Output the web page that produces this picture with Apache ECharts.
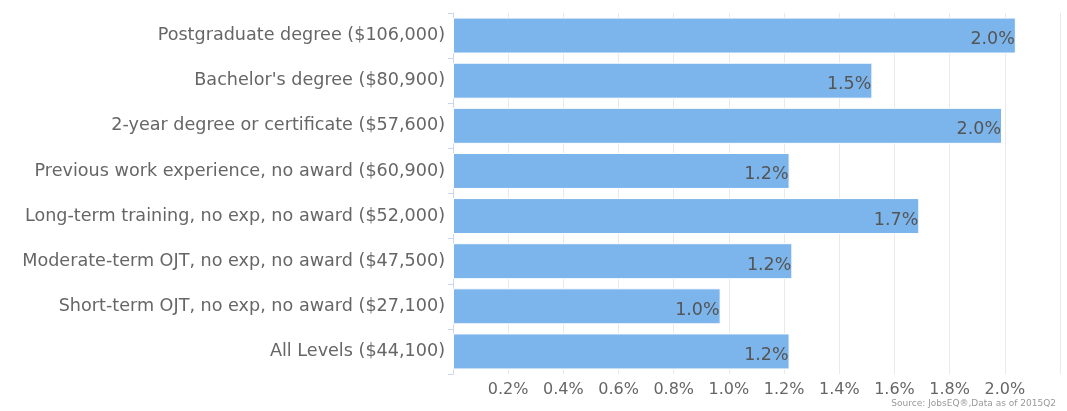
<!DOCTYPE html>
<html>
<head>
<meta charset="utf-8">
<script src="https://cdn.jsdelivr.net/npm/echarts@6/dist/echarts.min.js"></script>
<style>
html,body{margin:0;padding:0;background:#fff;}
#c{width:1067px;height:411px;}
</style>
</head>
<body>
<div id="c"></div>
<script>
const categories = [
  "Postgraduate degree ($106,000)",
  "Bachelor's degree ($80,900)",
  "2-year degree or certificate ($57,600)",
  "Previous work experience, no award ($60,900)",
  "Long-term training, no exp, no award ($52,000)",
  "Moderate-term OJT, no exp, no award ($47,500)",
  "Short-term OJT, no exp, no award ($27,100)",
  "All Levels ($44,100)"
];
const growthValues = [2.04, 1.52, 1.99, 1.22, 1.69, 1.23, 0.97, 1.22];
const sourceText = "Source: JobsEQ®,Data as of 2015Q2";

const chart = echarts.init(document.getElementById('c'), null, {renderer: 'canvas'});
const font = 'DejaVu Sans';
chart.setOption({
  animation: false,
  backgroundColor: '#ffffff',
  grid: {left: 453, right: 7, top: 13, bottom: 37, containLabel: false},
  xAxis: {
    type: 'value',
    min: 0, max: 2.2, interval: 0.2,
    axisLine: {show: false},
    axisTick: {show: false},
    splitLine: {show: true, lineStyle: {color: '#e9e9e9', width: 1}},
    axisLabel: {
      color: '#666666', fontFamily: font, fontSize: 16, margin: 8,
      formatter: function (v) {
        if (v < 0.01 || v > 2.1) return '';
        return v.toFixed(1) + '%';
      }
    }
  },
  yAxis: {
    type: 'category',
    data: categories,
    inverse: true,
    axisLine: {show: true, lineStyle: {color: '#ccd6eb', width: 1}},
    axisTick: {show: true, length: 5, lineStyle: {color: '#ccd6eb'}},
    axisLabel: {color: '#666666', fontFamily: font, fontSize: 17.6, margin: 8}
  },
  series: [{
    type: 'bar',
    data: growthValues,
    barWidth: 36,
    itemStyle: {color: '#7cb5ec', borderColor: '#ffffff', borderWidth: 1},
    label: {
      show: true,
      position: 'insideRight',
      distance: 1,
      offset: [0, 4],
      color: '#555555',
      fontFamily: font,
      fontSize: 17.5,
      formatter: function (p) { return p.value.toFixed(1) + '%'; }
    }
  }],
  graphic: [{
    type: 'text',
    right: 11,
    top: 399,
    style: {text: sourceText, fill: '#999999', font: '9px "DejaVu Sans"'}
  }]
});
</script>
</body>
</html>
